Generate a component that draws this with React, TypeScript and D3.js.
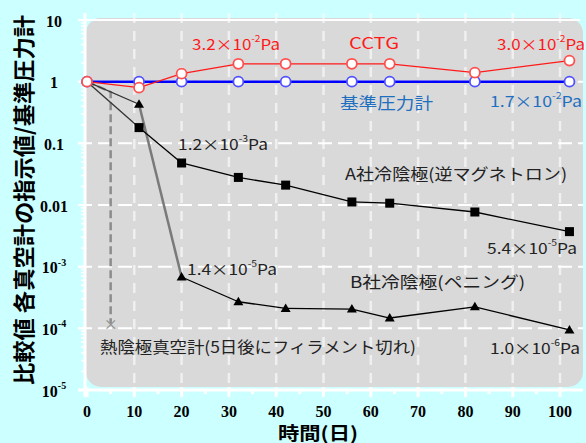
import * as d3 from "d3";

const WIDTH = 586;
const HEIGHT = 443;

// days on which every gauge was read
const days = [0, 11, 20, 32, 42, 56, 64, 82, 102];
const reference = [1, 1, 1, 1, 1, 1, 1, 1, 1];
const cctg = [1, 0.8, 1.35, 1.95, 1.95, 1.95, 1.95, 1.4, 2.2];
const coldA = [1, 0.18, 0.048, 0.028, 0.021, 0.0112, 0.0107, 0.0077, 0.0037];
const coldB = [1, 0.43, 6.8e-4, 2.7e-4, 2.1e-4, 2.05e-4, 1.47e-4, 2.23e-4, 9.4e-5];

// hot cathode gauge: filament broke after 5 days
const hotDays = [0, 5, 5];
const hotValues = [1, 0.68, 1.2e-4];

const xTicks = [0, 10, 20, 30, 40, 50, 60, 70, 80, 90, 100];
const yTicks = [10, 1, 0.1, 0.01, 1e-3, 1e-4, 1e-5];

const BG = "#ccffff";
const PANEL = "#d9d9d9";
const RED = "#ff1a1a";
const BLUE = "#0000ff";
const LABEL_BLUE = "#1f6fc0";
const INK = "#222";
const SANS = "'Noto Sans CJK JP', 'Noto Sans', sans-serif";
const SERIF = "'Liberation Serif', 'DejaVu Serif', serif";

const x = d3.scaleLinear().domain([0, 100]).range([87, 560]);
const y = d3.scaleLog().domain([1e-5, 10]).range([390, 20]);

const line = d3
  .line<[number, number]>()
  .x((d) => x(d[0]))
  .y((d) => y(d[1]));

const pts = (xs: number[], ys: number[]) =>
  xs.map((d, i) => [d, ys[i]] as [number, number]);

const fmtTick = (v: number) => {
  if (v >= 0.01) return <>{v >= 1 ? String(v) : v === 0.1 ? "0.1" : "0.01"}</>;
  const e = Math.round(Math.log10(v));
  return (
    <>
      10
      <tspan dy={-6} fontSize={10}>
        {e}
      </tspan>
    </>
  );
};

type PaProps = { x: number; y: number; m: string; e: number; fill: string; len: number };
const PaLabel = ({ x, y, m, e, fill, len }: PaProps) => (
  <text
    x={x}
    y={y}
    fontFamily={SANS}
    fontSize={15}
    fill={fill}
    dominantBaseline="central"
    textLength={len}
    lengthAdjust="spacingAndGlyphs"
  >
    {m}×10
    <tspan dy={-5} fontSize={9}>
      {e}
    </tspan>
    <tspan dy={5}>Pa</tspan>
  </text>
);

type NoteProps = { x: number; y: number; text: string; fill?: string; len: number };
const Note = ({ x, y, text, fill = INK, len }: NoteProps) => (
  <text
    x={x}
    y={y}
    fontFamily={SANS}
    fontSize={16}
    fill={fill}
    dominantBaseline="central"
    textLength={len}
    lengthAdjust="spacingAndGlyphs"
  >
    {text}
  </text>
);

const tri = (cx: number, cy: number, s: number) =>
  `M${cx},${cy - s}L${cx + s},${cy + s * 0.7}L${cx - s},${cy + s * 0.7}Z`;

export default function App() {
  const minor: number[] = [];
  for (let e = -5; e < 1; e++) {
    for (let k = 2; k < 10; k++) minor.push(k * Math.pow(10, e));
  }
  const aPts = pts(days, coldA);
  const bPts = pts(days, coldB);

  return (
    <div style={{ position: "absolute", left: 0, top: 0 }}>
      <svg width={WIDTH} height={HEIGHT} style={{ display: "block" }}>
        <rect width={WIDTH} height={HEIGHT} fill={BG} />
        <rect x={86} y={18} width={497} height={369} rx={15} fill={PANEL} />

        {/* grid */}
        {xTicks.slice(1).map((t) => (
          <line
            key={`vg${t}`}
            x1={x(t)}
            x2={x(t)}
            y1={13}
            y2={386}
            stroke="#fff"
            strokeOpacity={0.6}
            strokeWidth={2.5}
            strokeDasharray="10 8"
          />
        ))}
        {yTicks.slice(1, -1).map((t) => (
          <line
            key={`hg${t}`}
            x1={78}
            x2={583}
            y1={y(t)}
            y2={y(t)}
            stroke="#fff"
            strokeWidth={2}
            strokeDasharray="14 6"
          />
        ))}
        <line x1={78} x2={580} y1={y(10)} y2={y(10)} stroke="#fff" strokeWidth={2} />

        {/* axes */}
        <line x1={85} x2={85} y1={13} y2={397} stroke="#fff" strokeWidth={3} />
        <line x1={78} x2={583} y1={390} y2={390} stroke="#fff" strokeWidth={3} />
        {yTicks.map((t) => (
          <line key={`yt${t}`} x1={78} x2={85} y1={y(t)} y2={y(t)} stroke="#fff" strokeWidth={2} />
        ))}
        {minor.map((t) => (
          <line key={`ym${t}`} x1={81} x2={85} y1={y(t)} y2={y(t)} stroke="#fff" strokeWidth={1.5} />
        ))}
        {xTicks.map((t) => (
          <line key={`xt${t}`} x1={x(t)} x2={x(t)} y1={387} y2={397} stroke="#fff" strokeWidth={3} />
        ))}
        {xTicks.slice(0, -1).map((t) => (
          <line key={`xm${t}`} x1={x(t + 5)} x2={x(t + 5)} y1={390} y2={394} stroke="#fff" strokeWidth={3} />
        ))}

        {/* tick labels */}
        {xTicks.map((t) => (
          <text
            key={`xl${t}`}
            x={x(t)}
            y={411}
            textAnchor="middle"
            dominantBaseline="central"
            fontFamily={SERIF}
            fontWeight="bold"
            fontSize={16}
          >
            {t}
          </text>
        ))}
        {yTicks.map((t) => (
          <text
            key={`yl${t}`}
            x={54}
            y={y(t) + 1}
            textAnchor="middle"
            dominantBaseline="central"
            fontFamily={SERIF}
            fontWeight="bold"
            fontSize={16}
          >
            {fmtTick(t)}
          </text>
        ))}

        {/* axis titles */}
        <text
          transform="translate(22,200) rotate(-90)"
          textAnchor="middle"
          dominantBaseline="central"
          fontFamily={SANS}
          fontWeight="bold"
          fontSize={22}
          textLength={370}
          lengthAdjust="spacingAndGlyphs"
        >
          比較値 各真空計の指示値/基準圧力計
        </text>
        <text
          x={278}
          y={440}
          fontFamily={SANS}
          fontWeight="bold"
          fontSize={18}
          textLength={80}
          lengthAdjust="spacingAndGlyphs"
        >
          時間(日)
        </text>

        {/* hot cathode gauge */}
        <path
          d={line(pts(hotDays, hotValues))!}
          fill="none"
          stroke="#8c8c8c"
          strokeWidth={2.5}
          strokeDasharray="8 4"
        />
        <text
          x={x(5)}
          y={y(1.2e-4)}
          textAnchor="middle"
          dominantBaseline="central"
          fontFamily={SANS}
          fontSize={14}
          fill="#8c8c8c"
        >
          ×
        </text>

        {/* cold cathode B */}
        {bPts.slice(1).map((p, i) => (
          <path
            key={`bs${i}`}
            d={line([bPts[i], p])!}
            stroke={i === 1 ? "#7a7a7a" : i === 0 ? "#333" : "#000"}
            strokeWidth={i === 1 ? 2.5 : 1.3}
            fill="none"
          />
        ))}
        {/* cold cathode A */}
        {aPts.slice(1).map((p, i) => (
          <path
            key={`as${i}`}
            d={line([aPts[i], p])!}
            stroke={i === 0 ? "#333" : "#000"}
            strokeWidth={1.3}
            fill="none"
          />
        ))}
        {bPts.slice(1).map((p, i) => (
          <path key={`bm${i}`} d={tri(x(p[0]), y(p[1]), 5)} fill="#000" />
        ))}
        {aPts.slice(1).map((p, i) => (
          <rect key={`am${i}`} x={x(p[0]) - 4.5} y={y(p[1]) - 4.5} width={9} height={9} fill="#000" />
        ))}

        {/* reference gauge and CCTG */}
        <path d={line(pts(days, reference))!} fill="none" stroke={BLUE} strokeWidth={2.5} />
        <path d={line(pts(days, cctg))!} fill="none" stroke={RED} strokeWidth={1.3} />
        {days.map((d, i) => (
          <circle key={`rc${i}`} cx={x(d)} cy={y(reference[i])} r={5} fill="#fff" stroke="#5050ff" strokeWidth={1.8} />
        ))}
        {days.map((d, i) => (
          <circle key={`cc${i}`} cx={x(d)} cy={y(cctg[i])} r={5} fill="#fff" stroke="#ff5050" strokeWidth={1.8} />
        ))}

        {/* annotations */}
        <PaLabel x={192} y={43} m="3.2" e={-2} fill={RED} len={88} />
        <Note x={349} y={42} text="CCTG" fill={RED} len={50} />
        <PaLabel x={497} y={43} m="3.0" e={-2} fill={RED} len={88} />
        <Note x={340} y={102} text="基準圧力計" fill={LABEL_BLUE} len={93} />
        <PaLabel x={490} y={100} m="1.7" e={-2} fill={LABEL_BLUE} len={92} />
        <PaLabel x={178} y={143} m="1.2" e={-3} fill={INK} len={90} />
        <Note x={345} y={173} text="A社冷陰極(逆マグネトロン)" len={222} />
        <PaLabel x={487} y={247} m="5.4" e={-5} fill={INK} len={90} />
        <PaLabel x={187} y={268} m="1.4" e={-5} fill={INK} len={90} />
        <Note x={350} y={281} text="B社冷陰極(ペニング)" len={175} />
        <Note x={100} y={346} text="熱陰極真空計(5日後にフィラメント切れ)" len={316} />
        <PaLabel x={490} y={347} m="1.0" e={-6} fill={INK} len={90} />
      </svg>
    </div>
  );
}
